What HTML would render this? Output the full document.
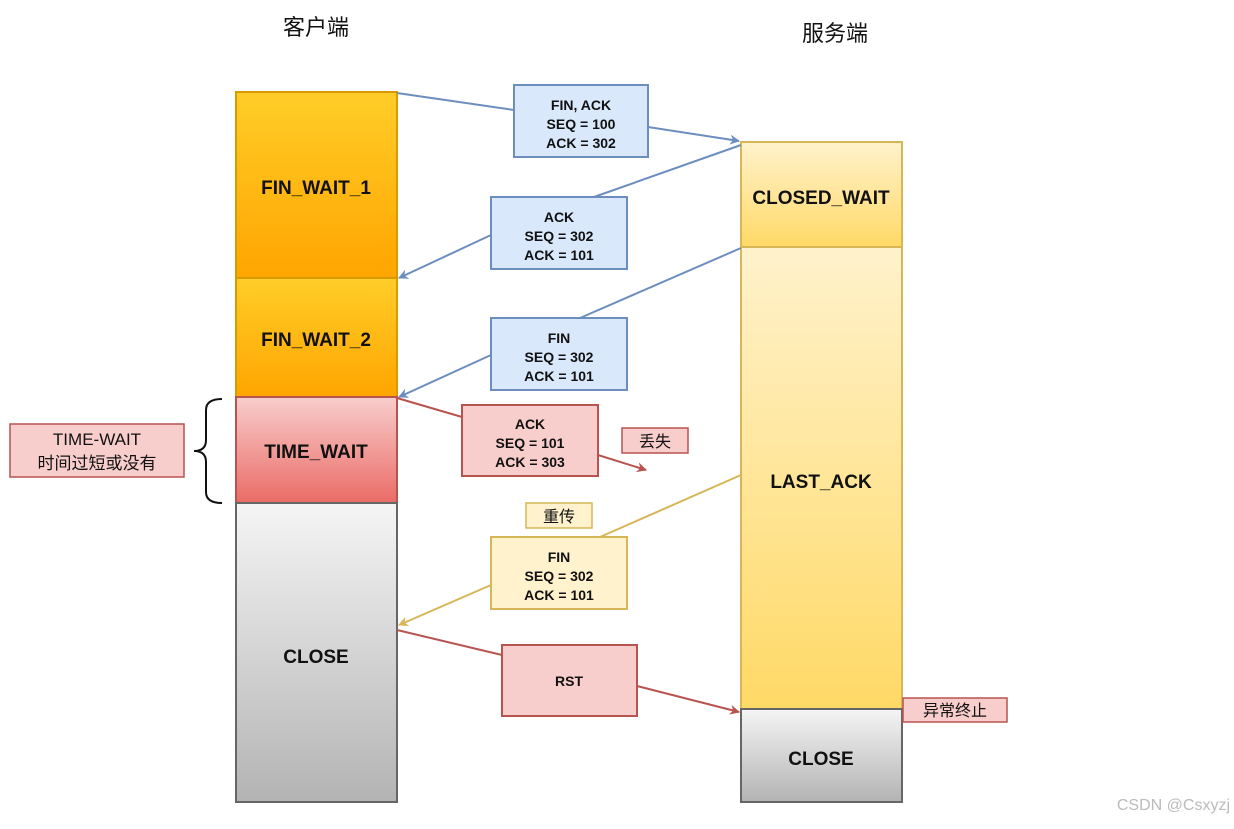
<!DOCTYPE html>
<html><head><meta charset="utf-8"><style>
body{margin:0;background:#fff;}
text{font-family:"Liberation Sans","Noto Sans CJK SC",sans-serif;}
.b{font-weight:bold;font-size:19px;fill:#111;}
.s{font-weight:bold;font-size:14px;fill:#111;}
</style></head><body>
<svg width="1234" height="824" xmlns="http://www.w3.org/2000/svg">
<defs>
<linearGradient id="or" x1="0" y1="0" x2="0" y2="1"><stop offset="0" stop-color="#ffcd28"/><stop offset="1" stop-color="#ffa500"/></linearGradient>
<linearGradient id="rd" x1="0" y1="0" x2="0" y2="1"><stop offset="0" stop-color="#f8cecc"/><stop offset="1" stop-color="#ea6b66"/></linearGradient>
<linearGradient id="gr" x1="0" y1="0" x2="0" y2="1"><stop offset="0" stop-color="#f5f5f5"/><stop offset="1" stop-color="#b3b3b3"/></linearGradient>
<linearGradient id="ye" x1="0" y1="0" x2="0" y2="1"><stop offset="0" stop-color="#fff2cc"/><stop offset="1" stop-color="#ffd966"/></linearGradient>
<marker id="ab" markerWidth="10" markerHeight="10" refX="9" refY="5" orient="auto" markerUnits="userSpaceOnUse"><path d="M0,0 L10,5 L0,10 L3,5z" fill="#6c8ebf"/></marker>
<marker id="ar" markerWidth="10" markerHeight="10" refX="9" refY="5" orient="auto" markerUnits="userSpaceOnUse"><path d="M0,0 L10,5 L0,10 L3,5z" fill="#b85450"/></marker>
<marker id="ay" markerWidth="10" markerHeight="10" refX="9" refY="5" orient="auto" markerUnits="userSpaceOnUse"><path d="M0,0 L10,5 L0,10 L3,5z" fill="#d6b656"/></marker>
</defs>
<text x="316" y="35" font-size="22" text-anchor="middle" fill="#111">客户端</text>
<text x="835" y="41" font-size="22" text-anchor="middle" fill="#111">服务端</text>

<rect x="236" y="92" width="161" height="186" fill="url(#or)" stroke="#d79b00" stroke-width="2"/>
<rect x="236" y="278" width="161" height="119" fill="url(#or)" stroke="#d79b00" stroke-width="2"/>
<rect x="236" y="397" width="161" height="106" fill="url(#rd)" stroke="#b85450" stroke-width="2"/>
<rect x="236" y="503" width="161" height="299" fill="url(#gr)" stroke="#666" stroke-width="2"/>
<text class="b" x="316" y="194" text-anchor="middle">FIN_WAIT_1</text>
<text class="b" x="316" y="346" text-anchor="middle">FIN_WAIT_2</text>
<text class="b" x="316" y="458" text-anchor="middle">TIME_WAIT</text>
<text class="b" x="316" y="663" text-anchor="middle">CLOSE</text>

<rect x="741" y="142" width="161" height="105" fill="url(#ye)" stroke="#d6b656" stroke-width="2"/>
<rect x="741" y="247" width="161" height="462" fill="url(#ye)" stroke="#d6b656" stroke-width="2"/>
<rect x="741" y="709" width="161" height="93" fill="url(#gr)" stroke="#666" stroke-width="2"/>
<text class="b" x="821" y="204" text-anchor="middle">CLOSED_WAIT</text>
<text class="b" x="821" y="488" text-anchor="middle">LAST_ACK</text>
<text class="b" x="821" y="765" text-anchor="middle">CLOSE</text>

<g stroke-width="2" fill="none">
<path d="M397,93 L514,110" stroke="#6c8ebf"/>
<path d="M648,127 L739,141" stroke="#6c8ebf" marker-end="url(#ab)"/>
<path d="M741,145 L594,197" stroke="#6c8ebf"/>
<path d="M491,235 L399,278" stroke="#6c8ebf" marker-end="url(#ab)"/>
<path d="M741,248 L580,318" stroke="#6c8ebf"/>
<path d="M491,355 L399,397" stroke="#6c8ebf" marker-end="url(#ab)"/>
<path d="M397,398 L462,417" stroke="#b85450"/>
<path d="M598,455 L646,470" stroke="#b85450" marker-end="url(#ar)"/>
<path d="M741,475 L600,537" stroke="#d6b656"/>
<path d="M491,585 L399,625" stroke="#d6b656" marker-end="url(#ay)"/>
<path d="M397,630 L502,655" stroke="#b85450"/>
<path d="M637,686 L739,712" stroke="#b85450" marker-end="url(#ar)"/>
<path d="M222,399 Q206,399 206,410 L206,440 Q206,451 194,451 Q206,451 206,462 L206,492 Q206,503 222,503" stroke="#111"/>
</g>

<g stroke-width="2">
<rect x="514" y="85" width="134" height="72" fill="#dae8fc" stroke="#6c8ebf"/>
<rect x="491" y="197" width="136" height="72" fill="#dae8fc" stroke="#6c8ebf"/>
<rect x="491" y="318" width="136" height="72" fill="#dae8fc" stroke="#6c8ebf"/>
<rect x="462" y="405" width="136" height="71" fill="#f8cecc" stroke="#b85450"/>
<rect x="622" y="428" width="66" height="25" fill="#f8cecc" stroke="#b85450" stroke-width="1.5"/>
<rect x="526" y="503" width="66" height="25" fill="#fff2cc" stroke="#d6b656" stroke-width="1.5"/>
<rect x="491" y="537" width="136" height="72" fill="#fff2cc" stroke="#d6b656"/>
<rect x="502" y="645" width="135" height="71" fill="#f8cecc" stroke="#b85450"/>
<rect x="903" y="698" width="104" height="24" fill="#f8cecc" stroke="#b85450" stroke-width="1.5"/>
<rect x="10" y="424" width="174" height="53" fill="#f8cecc" stroke="#b85450" stroke-width="1.5"/>
</g>

<g class="s" text-anchor="middle">
<text class="s" x="581" y="110">FIN, ACK</text><text class="s" x="581" y="129">SEQ = 100</text><text class="s" x="581" y="148">ACK = 302</text>
<text class="s" x="559" y="222">ACK</text><text class="s" x="559" y="241">SEQ = 302</text><text class="s" x="559" y="260">ACK = 101</text>
<text class="s" x="559" y="343">FIN</text><text class="s" x="559" y="362">SEQ = 302</text><text class="s" x="559" y="381">ACK = 101</text>
<text class="s" x="530" y="429">ACK</text><text class="s" x="530" y="448">SEQ = 101</text><text class="s" x="530" y="467">ACK = 303</text>
<text class="s" x="559" y="562">FIN</text><text class="s" x="559" y="581">SEQ = 302</text><text class="s" x="559" y="600">ACK = 101</text>
<text class="s" x="569" y="686">RST</text>
</g>
<text x="655" y="447" font-size="16" text-anchor="middle" fill="#111">丢失</text>
<text x="559" y="522" font-size="16" text-anchor="middle" fill="#111">重传</text>
<text x="955" y="716" font-size="16" text-anchor="middle" fill="#111">异常终止</text>
<text x="97" y="445" font-size="17" text-anchor="middle" fill="#111">TIME-WAIT</text>
<text x="97" y="469" font-size="17" text-anchor="middle" fill="#111">时间过短或没有</text>
<text x="1230" y="810" font-size="16" text-anchor="end" fill="#bbb">CSDN @Csxyzj</text>
</svg>
</body></html>
